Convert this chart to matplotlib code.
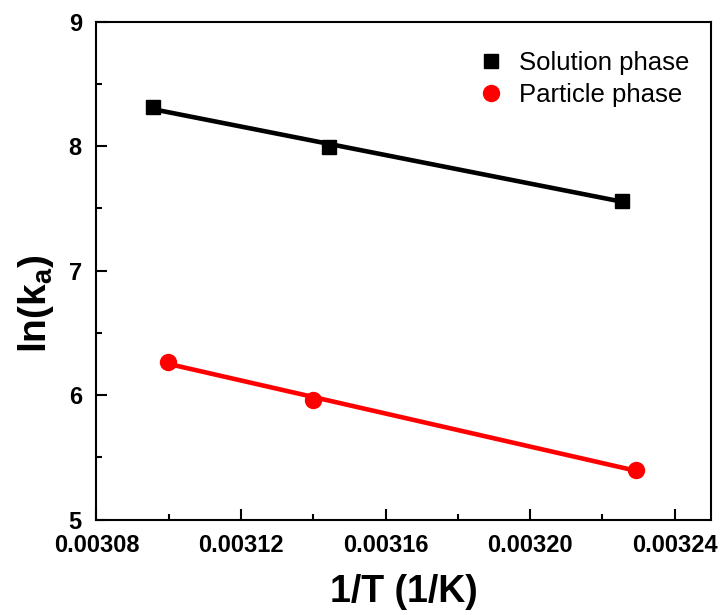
import matplotlib

matplotlib.use("Agg")
import matplotlib.pyplot as plt
import numpy as np
from matplotlib.ticker import MultipleLocator, FormatStrFormatter

plt.rcParams["font.family"] = ["Liberation Sans", "DejaVu Sans"]

# 1/T (1/K) and ln(ka) for the two phases
sol_x = [0.0030956, 0.0031443, 0.0032253]
sol_y = [8.31, 7.996, 7.562]
par_x = [0.0030998, 0.0031398, 0.0032294]
par_y = [6.27, 5.96, 5.40]


def fit_line(ax, x, y, color):
    x = np.asarray(x)
    k, b = np.polyfit(x, y, 1)
    xs = np.array([x.min(), x.max()])
    ax.plot(xs, k * xs + b, color=color, lw=3.3, zorder=2)


fig = plt.figure(figsize=(7.22, 6.15), dpi=100)
ax = fig.add_axes([0.1335, 0.155, 0.851, 0.81])

fit_line(ax, sol_x, sol_y, "black")
fit_line(ax, par_x, par_y, "#ff0000")
ax.plot(sol_x, sol_y, ls="none", marker="s", ms=10.5, color="black",
        label="Solution phase", zorder=3)
ax.plot(par_x, par_y, ls="none", marker="o", ms=11.5, color="#ff0000",
        label="Particle phase", zorder=3)

ax.set_xlim(0.00308, 0.00325)
ax.set_ylim(5, 9)
ax.xaxis.set_major_locator(MultipleLocator(0.00004))
ax.xaxis.set_minor_locator(MultipleLocator(0.00002))
ax.xaxis.set_major_formatter(FormatStrFormatter("%.5f"))
ax.yaxis.set_major_locator(MultipleLocator(1))
ax.yaxis.set_minor_locator(MultipleLocator(0.5))

ax.tick_params(which="both", direction="in", top=False, right=False,
               width=1.5, labelsize=17)
ax.tick_params(which="major", length=8, pad=10.5)
ax.tick_params(which="minor", length=4)
for lbl in ax.get_xticklabels() + ax.get_yticklabels():
    lbl.set_fontweight("bold")
for s in ax.spines.values():
    s.set_linewidth(1.5)

ax.set_xlabel("1/T (1/K)", fontsize=27, fontweight="bold", labelpad=12)
ax.set_ylabel(r"ln(k$_\mathregular{a}$)", fontsize=28, fontweight="bold")
ax.yaxis.set_label_coords(-0.065, 0.434)

ax.legend(loc="upper right", bbox_to_anchor=(1.013, 1.0), frameon=False,
          fontsize=18.5, handletextpad=0.5, borderaxespad=0.75,
          labelspacing=0.32, handlelength=1.2)

fig.savefig("out.png", dpi=100)
